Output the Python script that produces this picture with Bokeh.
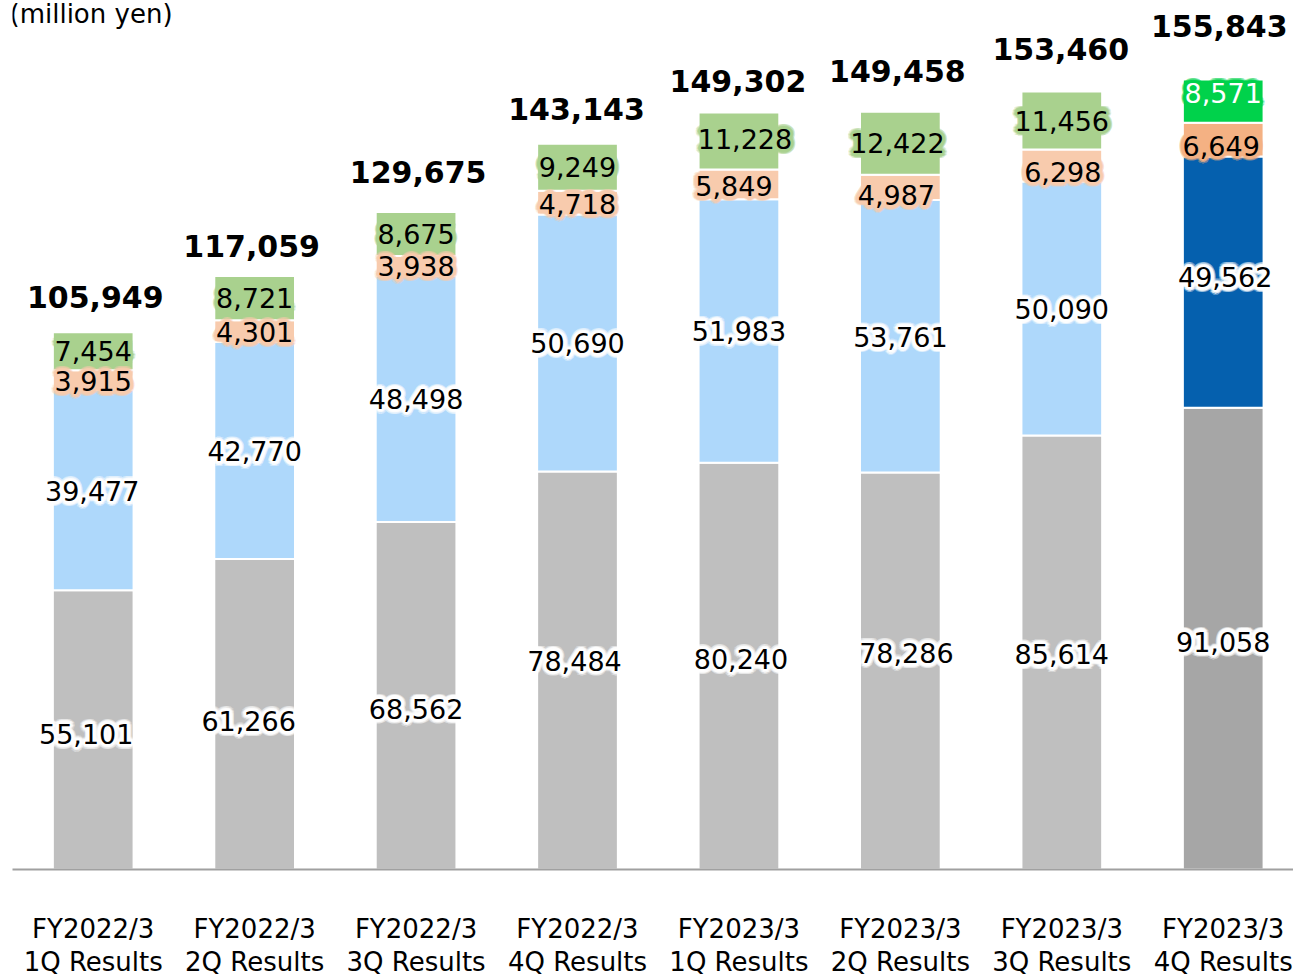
import math
from bokeh.plotting import figure
from bokeh.models import ColumnDataSource, Range1d, FixedTicker, Label
from bokeh.core.properties import value
from bokeh.embed import file_html
from bokeh.resources import INLINE

# ---------------- data ----------------
periods = ["FY2022/3\n1Q Results", "FY2022/3\n2Q Results", "FY2022/3\n3Q Results",
           "FY2022/3\n4Q Results", "FY2023/3\n1Q Results", "FY2023/3\n2Q Results",
           "FY2023/3\n3Q Results", "FY2023/3\n4Q Results"]
gray_vals = [55101, 61266, 68562, 78484, 80240, 78286, 85614, 91058]
blue_vals = [39477, 42770, 48498, 50690, 51983, 53761, 50090, 49562]
peach_vals = [3915, 4301, 3938, 4718, 5849, 4987, 6298, 6649]
green_vals = [7454, 8721, 8675, 9249, 11228, 12422, 11456, 8571]
totals = [105949, 117059, 129675, 143143, 149302, 149458, 153460, 155843]
unit_label = "(million yen)"

# ---------------- styles ----------------
FONT = value("DejaVu Sans")
gray_c = ["#BFBFBF"] * 7 + ["#A6A6A6"]
blue_c = ["#AED8FB"] * 7 + ["#0560AE"]
peach_c = ["#F8CBAD"] * 7 + ["#F4B183"]
green_c = ["#A9D18E"] * 7 + ["#00D24B"]

# label nudges in screen pixels (dx, dy; dy positive = down)
gray_dx = [-7, -6, 0, -3, 2, 6, 0, 0]
gray_dy = [4, 7, 13, -10, -7, -18, 2, 3]
blue_dx = [-1, 0, 0, 0, 0, 0, 0, 2]
blue_dy = [1, 1, 0, 0, 0, 1, 1, -5]
peach_dx = [0, 0, 0, 0, -5, -4, 1, -2]
peach_dy = [1, 1, 0, 1, 2, 8, 6, 6]
green_dx = [0, 0, 0, 0, 6, -3, 0, 0]
green_dy = [0, 0, 0, 0, -2, 0, 0, -8]
total_dx = [2, -3, 2, -1, -1, -3, -1, -4]
total_up = [35, 30, 40, 35, 32, 41, 42, 53]

n = len(periods)
xs = list(range(n))

p = figure(frame_width=1281, frame_height=869, output_backend="svg",
           toolbar_location=None, min_border_left=12, min_border_right=0,
           min_border_top=0, min_border_bottom=107,
           x_range=Range1d(-0.5, -0.5 + 1281 / 161.43),
           y_range=Range1d(0, 869 / 0.00507))
p.margin = (0, 0, -8, 0)
p.outline_line_color = None
p.background_fill_color = "white"
p.border_fill_color = "white"
p.grid.visible = False
p.yaxis.visible = False

# stacked bars
b0 = [0] * n
b1 = gray_vals
b2 = [g + b for g, b in zip(gray_vals, blue_vals)]
b3 = [a + c for a, c in zip(b2, peach_vals)]
b4 = [a + c for a, c in zip(b3, green_vals)]
for bottom, top, cols in [(b0, b1, gray_c), (b1, b2, blue_c), (b2, b3, peach_c), (b3, b4, green_c)]:
    src = ColumnDataSource(dict(x=xs, bottom=bottom, top=top, color=cols))
    p.vbar(x="x", bottom="bottom", top="top", width=0.5, source=src,
           fill_color="color", line_color="white", line_width=2)

# labels
lab_x, lab_y, lab_t, lab_dx, lab_dy, lab_col, lab_halo = [], [], [], [], [], [], []
def add(vals, bottoms, dxs, dys, tcols, hcols):
    for i in range(n):
        lab_x.append(xs[i])
        lab_y.append(bottoms[i] + vals[i] / 2)
        lab_t.append(f"{vals[i]:,}")
        lab_dx.append(dxs[i]); lab_dy.append(dys[i])
        lab_col.append(tcols[i]); lab_halo.append(hcols[i])

add(gray_vals, b0, gray_dx, gray_dy, ["#000000"] * n, ["#FFFFFF"] * n)
add(blue_vals, b1, blue_dx, blue_dy, ["#000000"] * n, ["#FFFFFF"] * n)
add(peach_vals, b2, peach_dx, peach_dy, ["#000000"] * n, peach_c)
add(green_vals, b3, green_dx, green_dy, ["#000000"] * 7 + ["#FFFFFF"], green_c)

rings = [(5.0, 0.3, 20), (3.5, 0.6, 16), (2.0, 1.0, 12), (1.0, 1.0, 8)]
for r, a, k in rings:
    for j in range(k):
        ang = 2 * math.pi * j / k
        ox, oy = r * math.cos(ang), r * math.sin(ang)
        src = ColumnDataSource(dict(x=lab_x, y=lab_y, t=lab_t,
                                    dx=[d + ox for d in lab_dx],
                                    dy=[d + oy for d in lab_dy], c=lab_halo))
        p.text(x="x", y="y", text="t", x_offset="dx", y_offset="dy", source=src,
               text_color="c", text_alpha=a, text_font=FONT, text_font_size="27px",
               text_align="center", text_baseline="middle")

src = ColumnDataSource(dict(x=lab_x, y=lab_y, t=lab_t, dx=lab_dx, dy=lab_dy, c=lab_col))
p.text(x="x", y="y", text="t", x_offset="dx", y_offset="dy", source=src,
       text_color="c", text_font=FONT, text_font_size="27px",
       text_align="center", text_baseline="middle")

# totals
tsrc = ColumnDataSource(dict(x=xs, y=totals, t=[f"{v:,}" for v in totals],
                             dx=total_dx, dy=[-u for u in total_up]))
p.text(x="x", y="y", text="t", x_offset="dx", y_offset="dy", source=tsrc,
       text_color="#000000", text_font=FONT, text_font_size="30px",
       text_font_style="bold", text_align="center", text_baseline="middle")

# unit label
p.add_layout(Label(x=-0.5, y=(869 - 13) / 0.00507, x_offset=-3, text=unit_label,
                   text_font="DejaVu Sans", text_font_size="26px", text_color="#000000",
                   text_align="left", text_baseline="middle"))

# x axis
ax = p.xaxis[0]
ax.ticker = FixedTicker(ticks=xs)
ax.major_label_overrides = {i: periods[i] for i in xs}
ax.major_tick_line_color = None
ax.minor_tick_line_color = None
ax.axis_line_color = "#A0A0A0"
ax.axis_line_width = 2
ax.major_label_standoff = 38
ax.major_label_text_font = "DejaVu Sans"
ax.major_label_text_font_size = "26px"
ax.major_label_text_line_height = 1.1
ax.major_label_text_color = "#000000"

open("out.html", "w").write(file_html(p, INLINE))
